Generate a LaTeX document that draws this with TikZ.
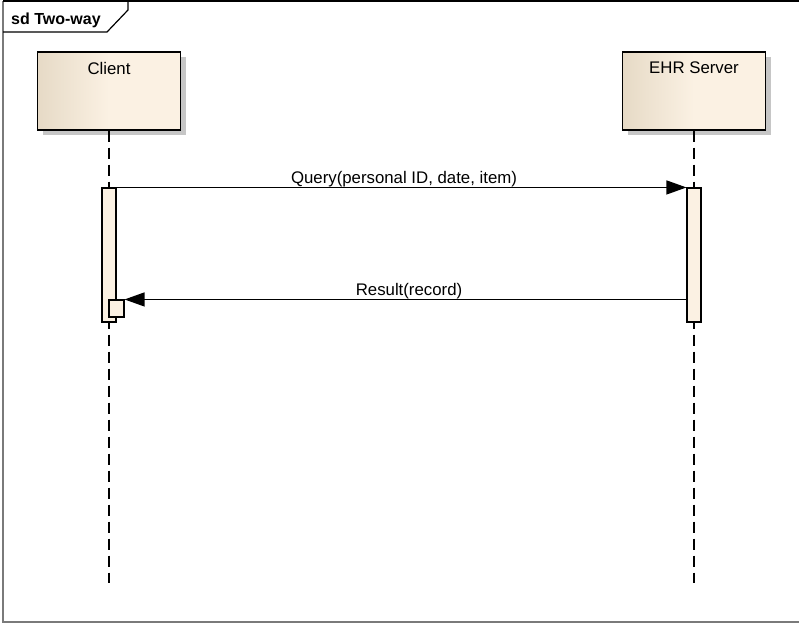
\documentclass[tikz,border=0pt]{standalone}
\usepackage{fontspec}
\setmainfont{Liberation Sans}
\usetikzlibrary{arrows.meta,shadows}
\definecolor{boxL}{HTML}{E6DAC6}
\definecolor{boxR}{HTML}{FBF1E3}
\definecolor{actfill}{HTML}{FBF1E3}
\definecolor{shadowc}{HTML}{C6C6C6}
\definecolor{framec}{HTML}{7A7A7A}
\begin{document}
\begin{tikzpicture}[x=1pt,y=-1pt,
  lbl/.style={font=\fontsize{16.8}{20}\selectfont, inner sep=0pt},
  actor/.style={draw=black, line width=1.3pt, left color=boxL, right color=boxR, middle color=boxR,
    minimum width=143pt, minimum height=78pt, inner sep=0pt,
    drop shadow={fill=shadowc, opacity=1, shadow xshift=5pt, shadow yshift=-5pt}},
  actbar/.style={draw=black, line width=1.1pt, fill=actfill, minimum width=14pt, minimum height=134pt, inner sep=0pt},
  nestbar/.style={draw=black, line width=1.1pt, fill=actfill, minimum width=15pt, minimum height=17pt, inner sep=0pt},
  lifeline/.style={line width=1.1pt, dash pattern=on 11pt off 6pt},
  msg/.style={line width=1.2pt, -{Triangle[length=20pt,width=14pt]}}]
\useasboundingbox (0,0) rectangle (799,624);
% frame
\draw[framec, line width=1.3pt] (3,1) -- (3,622) -- (799,622);
\draw[black, line width=1.2pt] (3,1) -- (799,1);
\draw[black, line width=1.2pt] (3,32) -- (107,32) -- (128,10) -- (128,1);
\node[lbl, font=\fontsize{16}{20}\selectfont\bfseries, anchor=base west] (title) at (11,24) {sd Two-way};
% actors
\node[actor] (client) at (109,91) {};
\node[lbl, anchor=base] (clientlbl) at ([yshift=-23pt]client.north) {Client};
\node[actor] (server) at (694,91) {};
\node[lbl, anchor=base] (serverlbl) at ([yshift=-22pt]server.north) {EHR Server};
% lifelines
\coordinate (cend) at (109,583);
\coordinate (send) at (694,583);
\draw[lifeline] (client.south) -- (cend);
\draw[lifeline] (server.south) -- (send);
% activations
\node[actbar] (cact) at (109,255) {};
\node[actbar] (sact) at (694,255) {};
\node[nestbar] (nest) at (116.5,308.5) {};
% messages
\draw[msg] (cact.north east) -- node[lbl, pos=0.5, anchor=base, yshift=4pt, xshift=2.5pt] (qlbl) {Query(personal ID, date, item)} (sact.north west);
\draw[msg] (sact.west |- nest.north) -- node[lbl, pos=0.5, anchor=base, yshift=4pt, xshift=3.5pt] (rlbl) {Result(record)} (nest.north east);
\end{tikzpicture}
\end{document}
